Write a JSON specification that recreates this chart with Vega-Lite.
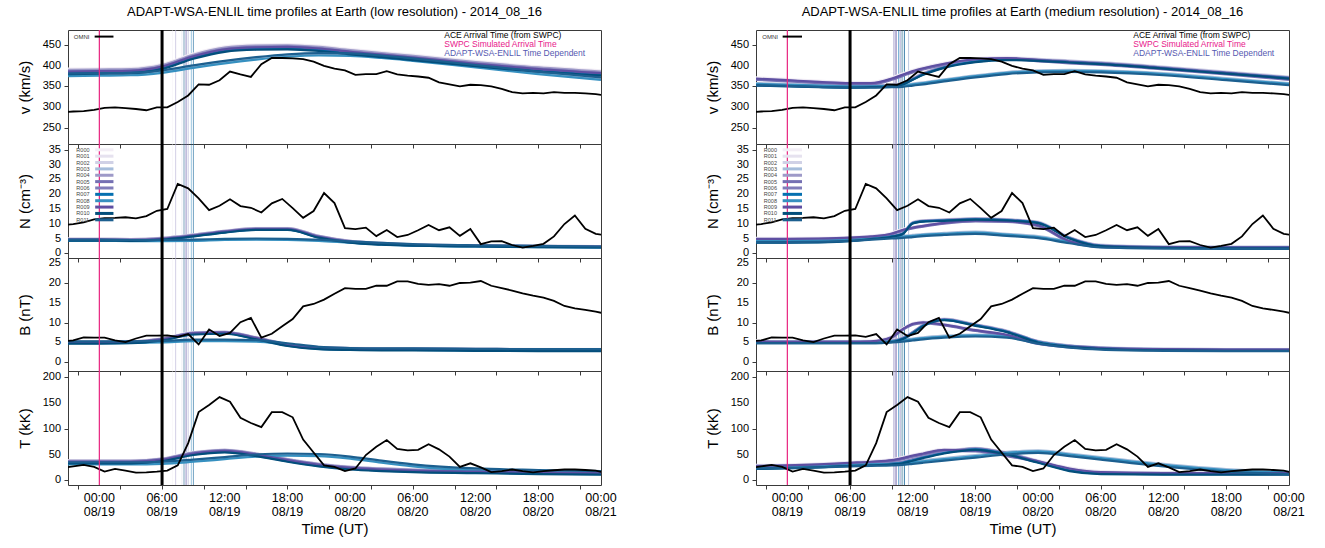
{
"$schema": "https://vega.github.io/schema/vega-lite/v6.json",
"background": "white",
"padding": {"left": 17, "top": 5, "right": 5, "bottom": 2},
"config": {
 "font": "Liberation Sans",
 "view": {"stroke": "#3a3a3a", "strokeWidth": 1},
 "axis": {"grid": false, "domain": false, "ticks": true, "tickColor": "#3a3a3a", "tickWidth": 1, "tickSize": 4, "labelColor": "#000", "titleColor": "#000", "titleFontWeight": "normal", "labelFont": "Liberation Sans", "titleFont": "Liberation Sans"},
 "title": {"font": "Liberation Sans", "fontWeight": "normal", "fontSize": 13, "color": "#000"}
},
"datasets": {
 "mem": [{"m":"R000"},{"m":"R001"},{"m":"R002"},{"m":"R003"},{"m":"R004"},{"m":"R005"},{"m":"R006"},{"m":"R007"},{"m":"R008"},{"m":"R009"},{"m":"R010"},{"m":"R011"}],
 "yt": [
  {"p":"v","val":250},{"p":"v","val":300},{"p":"v","val":350},{"p":"v","val":400},{"p":"v","val":450},
  {"p":"N","val":0},{"p":"N","val":5},{"p":"N","val":10},{"p":"N","val":15},{"p":"N","val":20},{"p":"N","val":25},{"p":"N","val":30},{"p":"N","val":35},
  {"p":"B","val":0},{"p":"B","val":5},{"p":"B","val":10},{"p":"B","val":15},{"p":"B","val":20},{"p":"B","val":25},
  {"p":"T","val":0},{"p":"T","val":50},{"p":"T","val":100},{"p":"T","val":150},{"p":"T","val":200}
 ],
 "xt": [
  {"h":0,"l":["00:00","08/19"]},{"h":6,"l":["06:00","08/19"]},{"h":12,"l":["12:00","08/19"]},{"h":18,"l":["18:00","08/19"]},
  {"h":24,"l":["00:00","08/20"]},{"h":30,"l":["06:00","08/20"]},{"h":36,"l":["12:00","08/20"]},{"h":42,"l":["18:00","08/20"]},{"h":48,"l":["00:00","08/21"]}
 ],
 "omni": [
  {"t":-3.5,"v":287,"N":9.5,"B":5.3,"T":24},{"t":-2.5,"v":289,"N":9.9,"B":5.5,"T":27},{"t":-1.5,"v":290,"N":10.5,"B":6.3,"T":30},{"t":-0.5,"v":293,"N":11.5,"B":6.2,"T":26},
  {"t":0.5,"v":298,"N":11.9,"B":6.2,"T":17},{"t":1.5,"v":299,"N":12.0,"B":5.5,"T":22},{"t":2.5,"v":297,"N":12.2,"B":5.1,"T":19},{"t":3.5,"v":295,"N":11.8,"B":6.0,"T":15},
  {"t":4.5,"v":292,"N":12.6,"B":6.7,"T":15.5},{"t":5.5,"v":299,"N":14.4,"B":6.7,"T":17},{"t":6.5,"v":299,"N":15.0,"B":6.8,"T":19},{"t":7.5,"v":312,"N":23.5,"B":6.4,"T":29},
  {"t":8.5,"v":328,"N":22.0,"B":7.1,"T":72},{"t":9.5,"v":355,"N":18.6,"B":4.5,"T":132},{"t":10.5,"v":354,"N":14.6,"B":8.3,"T":146},{"t":11.5,"v":365,"N":16.1,"B":6.6,"T":161},
  {"t":12.5,"v":386,"N":18.3,"B":7.4,"T":152},{"t":13.5,"v":379,"N":16.0,"B":10.1,"T":121},{"t":14.5,"v":373,"N":15.4,"B":11.2,"T":111},{"t":15.5,"v":404,"N":13.8,"B":6.2,"T":103},
  {"t":16.5,"v":419,"N":16.9,"B":7.2,"T":132},{"t":17.5,"v":419,"N":18.4,"B":9.1,"T":132},{"t":18.5,"v":418,"N":15.3,"B":10.9,"T":122},{"t":19.5,"v":416,"N":12.0,"B":14.1,"T":79},
  {"t":20.5,"v":410,"N":14.3,"B":14.7,"T":54},{"t":21.5,"v":400,"N":20.4,"B":15.8,"T":29},{"t":22.5,"v":393,"N":17.0,"B":17.3,"T":26},{"t":23.5,"v":389,"N":8.5,"B":18.7,"T":18},
  {"t":24.5,"v":378,"N":8.2,"B":18.5,"T":23},{"t":25.5,"v":380,"N":8.7,"B":18.5,"T":49},{"t":26.5,"v":380,"N":5.8,"B":19.3,"T":65},{"t":27.5,"v":387,"N":7.9,"B":19.3,"T":78},
  {"t":28.5,"v":379,"N":5.5,"B":20.4,"T":61},{"t":29.5,"v":376,"N":6.2,"B":20.4,"T":58},{"t":30.5,"v":374,"N":7.8,"B":19.8,"T":59},{"t":31.5,"v":371,"N":9.6,"B":19.5,"T":70},
  {"t":32.5,"v":360,"N":7.8,"B":19.7,"T":60},{"t":33.5,"v":355,"N":8.8,"B":19.3,"T":46},{"t":34.5,"v":350,"N":5.9,"B":20.0,"T":26},{"t":35.5,"v":354,"N":8.2,"B":20.1,"T":33},
  {"t":36.5,"v":353,"N":3.1,"B":20.5,"T":25},{"t":37.5,"v":350,"N":4.0,"B":19.3,"T":16},{"t":38.5,"v":344,"N":4.1,"B":18.7,"T":18},{"t":39.5,"v":336,"N":2.8,"B":18.1,"T":21},
  {"t":40.5,"v":333,"N":1.9,"B":17.4,"T":18},{"t":41.5,"v":334,"N":2.5,"B":16.8,"T":15.5},{"t":42.5,"v":333,"N":3.2,"B":16.3,"T":18},{"t":43.5,"v":336,"N":5.7,"B":15.5,"T":19.5},
  {"t":44.5,"v":334,"N":9.9,"B":14.2,"T":21},{"t":45.5,"v":334,"N":12.8,"B":13.6,"T":21},{"t":46.5,"v":333,"N":8.3,"B":13.2,"T":20},{"t":47.5,"v":331,"N":6.6,"B":12.8,"T":19},
  {"t":48.5,"v":328,"N":6.0,"B":12.2,"T":14}
 ],
 "arr": [
  {"c":"L","m":"R000","t":7.0},{"c":"L","m":"R001","t":7.3},{"c":"L","m":"R002","t":7.9},{"c":"L","m":"R003","t":8.1},{"c":"L","m":"R004","t":7.3},{"c":"L","m":"R005","t":8.3},
  {"c":"L","m":"R006","t":8.5},{"c":"L","m":"R007","t":8.8},{"c":"L","m":"R008","t":9.0},{"c":"L","m":"R009","t":8.3},{"c":"L","m":"R010","t":8.1},{"c":"L","m":"R011","t":9.0},
  {"c":"R","m":"R000","t":10.2},{"c":"R","m":"R001","t":10.4},{"c":"R","m":"R002","t":11.6},{"c":"R","m":"R003","t":11.6},{"c":"R","m":"R004","t":10.4},{"c":"R","m":"R005","t":10.2},
  {"c":"R","m":"R006","t":10.8},{"c":"R","m":"R007","t":10.65},{"c":"R","m":"R008","t":11.2},{"c":"R","m":"R009","t":10.4},{"c":"R","m":"R010","t":10.98},{"c":"R","m":"R011","t":11.2}
 ],
 "ens": [
  {"c":"L","p":"v","t":-3,"R000":393,"R001":391,"R002":389,"R003":378,"R004":390,"R005":384,"R006":387,"R007":382,"R008":375,"R009":386,"R010":380,"R011":381},
  {"c":"L","p":"v","t":0,"R000":394,"R001":392,"R002":390,"R003":379,"R004":391,"R005":385,"R006":388,"R007":383,"R008":376,"R009":387,"R010":381,"R011":382},
  {"c":"L","p":"v","t":3,"R000":395,"R001":393,"R002":391,"R003":380,"R004":392,"R005":386,"R006":389,"R007":384,"R008":377,"R009":388,"R010":382,"R011":383},
  {"c":"L","p":"v","t":6,"R000":405,"R001":403,"R002":401,"R003":386,"R004":402,"R005":396,"R006":399,"R007":394,"R008":383,"R009":398,"R010":392,"R011":389},
  {"c":"L","p":"v","t":9,"R000":430,"R001":428,"R002":426,"R003":398,"R004":427,"R005":421,"R006":424,"R007":419,"R008":395,"R009":423,"R010":417,"R011":401},
  {"c":"L","p":"v","t":12,"R000":447,"R001":445,"R002":443,"R003":409,"R004":444,"R005":438,"R006":441,"R007":436,"R008":406,"R009":440,"R010":434,"R011":412},
  {"c":"L","p":"v","t":15,"R000":452,"R001":450,"R002":448,"R003":418,"R004":449,"R005":443,"R006":446,"R007":441,"R008":415,"R009":445,"R010":439,"R011":421},
  {"c":"L","p":"v","t":18,"R000":453,"R001":451,"R002":449,"R003":425,"R004":450,"R005":444,"R006":447,"R007":442,"R008":422,"R009":446,"R010":440,"R011":428},
  {"c":"L","p":"v","t":21,"R000":449,"R001":447,"R002":445,"R003":428,"R004":446,"R005":440,"R006":443,"R007":438,"R008":425,"R009":442,"R010":436,"R011":431},
  {"c":"L","p":"v","t":24,"R000":441,"R001":439,"R002":437,"R003":427,"R004":438,"R005":432,"R006":435,"R007":430,"R008":424,"R009":434,"R010":428,"R011":430},
  {"c":"L","p":"v","t":27,"R000":434,"R001":432,"R002":430,"R003":422,"R004":431,"R005":425,"R006":428,"R007":423,"R008":419,"R009":427,"R010":421,"R011":425},
  {"c":"L","p":"v","t":30,"R000":427,"R001":425,"R002":423,"R003":415,"R004":424,"R005":418,"R006":421,"R007":416,"R008":412,"R009":420,"R010":414,"R011":418},
  {"c":"L","p":"v","t":36,"R000":412,"R001":410,"R002":408,"R003":399,"R004":409,"R005":403,"R006":406,"R007":401,"R008":396,"R009":405,"R010":399,"R011":402},
  {"c":"L","p":"v","t":42,"R000":399,"R001":397,"R002":395,"R003":383,"R004":396,"R005":390,"R006":393,"R007":388,"R008":380,"R009":392,"R010":386,"R011":386},
  {"c":"L","p":"v","t":48,"R000":389,"R001":387,"R002":385,"R003":369,"R004":386,"R005":380,"R006":383,"R007":378,"R008":366,"R009":382,"R010":376,"R011":372},

  {"c":"L","p":"N","t":-3,"R000":5.0,"R001":4.9,"R002":4.8,"R003":4.4,"R004":4.9,"R005":4.5,"R006":4.7,"R007":4.4,"R008":4.2,"R009":4.6,"R010":4.3,"R011":4.6},
  {"c":"L","p":"N","t":0,"R000":5.0,"R001":4.9,"R002":4.8,"R003":4.4,"R004":4.9,"R005":4.5,"R006":4.7,"R007":4.4,"R008":4.2,"R009":4.6,"R010":4.3,"R011":4.6},
  {"c":"L","p":"N","t":3,"R000":4.9,"R001":4.8,"R002":4.7,"R003":4.3,"R004":4.8,"R005":4.4,"R006":4.6,"R007":4.3,"R008":4.1,"R009":4.5,"R010":4.2,"R011":4.5},
  {"c":"L","p":"N","t":6,"R000":5.3,"R001":5.2,"R002":5.1,"R003":4.3,"R004":5.2,"R005":4.8,"R006":5.0,"R007":4.7,"R008":4.1,"R009":4.9,"R010":4.6,"R011":4.5},
  {"c":"L","p":"N","t":9,"R000":6.4,"R001":6.3,"R002":6.2,"R003":4.4,"R004":6.3,"R005":5.9,"R006":6.1,"R007":5.8,"R008":4.2,"R009":6.0,"R010":5.7,"R011":4.6},
  {"c":"L","p":"N","t":12,"R000":7.7,"R001":7.6,"R002":7.5,"R003":4.7,"R004":7.6,"R005":7.2,"R006":7.4,"R007":7.1,"R008":4.5,"R009":7.3,"R010":7.0,"R011":4.9},
  {"c":"L","p":"N","t":15,"R000":8.6,"R001":8.5,"R002":8.4,"R003":4.8,"R004":8.5,"R005":8.1,"R006":8.3,"R007":8.0,"R008":4.6,"R009":8.2,"R010":7.9,"R011":5.0},
  {"c":"L","p":"N","t":18,"R000":8.6,"R001":8.5,"R002":8.4,"R003":4.7,"R004":8.5,"R005":8.1,"R006":8.3,"R007":8.0,"R008":4.5,"R009":8.2,"R010":7.9,"R011":4.9},
  {"c":"L","p":"N","t":21,"R000":6.0,"R001":5.9,"R002":5.8,"R003":4.4,"R004":5.9,"R005":5.5,"R006":5.7,"R007":5.4,"R008":4.2,"R009":5.6,"R010":5.3,"R011":4.6},
  {"c":"L","p":"N","t":24,"R000":4.3,"R001":4.2,"R002":4.1,"R003":3.8,"R004":4.2,"R005":3.8,"R006":4.0,"R007":3.7,"R008":3.6,"R009":3.9,"R010":3.6,"R011":4.0},
  {"c":"L","p":"N","t":27,"R000":3.6,"R001":3.5,"R002":3.4,"R003":3.3,"R004":3.5,"R005":3.1,"R006":3.3,"R007":3.0,"R008":3.1,"R009":3.2,"R010":2.9,"R011":3.5},
  {"c":"L","p":"N","t":30,"R000":3.1,"R001":3.0,"R002":2.9,"R003":2.9,"R004":3.0,"R005":2.7,"R006":2.9,"R007":2.6,"R008":2.7,"R009":2.8,"R010":2.6,"R011":3.1},
  {"c":"L","p":"N","t":36,"R000":2.7,"R001":2.7,"R002":2.6,"R003":2.5,"R004":2.7,"R005":2.4,"R006":2.6,"R007":2.4,"R008":2.3,"R009":2.5,"R010":2.3,"R011":2.7},
  {"c":"L","p":"N","t":42,"R000":2.5,"R001":2.5,"R002":2.4,"R003":2.3,"R004":2.5,"R005":2.2,"R006":2.4,"R007":2.2,"R008":2.1,"R009":2.3,"R010":2.1,"R011":2.5},
  {"c":"L","p":"N","t":48,"R000":2.4,"R001":2.4,"R002":2.3,"R003":2.1,"R004":2.4,"R005":2.1,"R006":2.3,"R007":2.1,"R008":1.9,"R009":2.2,"R010":2.0,"R011":2.3},

  {"c":"L","p":"B","t":-3,"R000":5.3,"R001":5.2,"R002":5.1,"R003":5.1,"R004":5.2,"R005":4.9,"R006":5.1,"R007":4.8,"R008":4.9,"R009":5.0,"R010":4.7,"R011":5.3},
  {"c":"L","p":"B","t":0,"R000":5.3,"R001":5.2,"R002":5.1,"R003":5.1,"R004":5.2,"R005":4.9,"R006":5.1,"R007":4.8,"R008":4.9,"R009":5.0,"R010":4.7,"R011":5.3},
  {"c":"L","p":"B","t":3,"R000":5.4,"R001":5.3,"R002":5.2,"R003":5.1,"R004":5.3,"R005":5.0,"R006":5.2,"R007":4.9,"R008":4.9,"R009":5.1,"R010":4.8,"R011":5.3},
  {"c":"L","p":"B","t":6,"R000":6.1,"R001":6.0,"R002":5.9,"R003":5.2,"R004":6.0,"R005":5.7,"R006":5.9,"R007":5.6,"R008":5.0,"R009":5.8,"R010":5.5,"R011":5.4},
  {"c":"L","p":"B","t":9,"R000":7.6,"R001":7.5,"R002":7.4,"R003":5.5,"R004":7.5,"R005":7.2,"R006":7.4,"R007":7.1,"R008":5.3,"R009":7.3,"R010":7.0,"R011":5.7},
  {"c":"L","p":"B","t":12,"R000":7.8,"R001":7.7,"R002":7.6,"R003":5.5,"R004":7.7,"R005":7.4,"R006":7.6,"R007":7.3,"R008":5.3,"R009":7.5,"R010":7.2,"R011":5.7},
  {"c":"L","p":"B","t":15,"R000":6.4,"R001":6.3,"R002":6.2,"R003":5.4,"R004":6.3,"R005":6.0,"R006":6.2,"R007":5.9,"R008":5.2,"R009":6.1,"R010":5.8,"R011":5.6},
  {"c":"L","p":"B","t":18,"R000":4.7,"R001":4.6,"R002":4.5,"R003":4.6,"R004":4.6,"R005":4.3,"R006":4.5,"R007":4.2,"R008":4.4,"R009":4.4,"R010":4.1,"R011":4.8},
  {"c":"L","p":"B","t":21,"R000":3.9,"R001":3.8,"R002":3.7,"R003":3.7,"R004":3.8,"R005":3.5,"R006":3.7,"R007":3.4,"R008":3.5,"R009":3.6,"R010":3.3,"R011":3.9},
  {"c":"L","p":"B","t":24,"R000":3.7,"R001":3.6,"R002":3.5,"R003":3.4,"R004":3.6,"R005":3.3,"R006":3.5,"R007":3.2,"R008":3.2,"R009":3.4,"R010":3.1,"R011":3.6},
  {"c":"L","p":"B","t":27,"R000":3.6,"R001":3.5,"R002":3.4,"R003":3.3,"R004":3.5,"R005":3.2,"R006":3.4,"R007":3.1,"R008":3.1,"R009":3.3,"R010":3.0,"R011":3.5},
  {"c":"L","p":"B","t":30,"R000":3.6,"R001":3.5,"R002":3.4,"R003":3.3,"R004":3.5,"R005":3.2,"R006":3.4,"R007":3.1,"R008":3.1,"R009":3.3,"R010":3.0,"R011":3.5},
  {"c":"L","p":"B","t":36,"R000":3.5,"R001":3.4,"R002":3.3,"R003":3.2,"R004":3.4,"R005":3.1,"R006":3.3,"R007":3.0,"R008":3.0,"R009":3.2,"R010":2.9,"R011":3.4},
  {"c":"L","p":"B","t":42,"R000":3.4,"R001":3.3,"R002":3.2,"R003":3.1,"R004":3.3,"R005":3.0,"R006":3.2,"R007":2.9,"R008":2.9,"R009":3.1,"R010":2.8,"R011":3.3},
  {"c":"L","p":"B","t":48,"R000":3.4,"R001":3.3,"R002":3.2,"R003":3.1,"R004":3.3,"R005":3.0,"R006":3.2,"R007":2.9,"R008":2.9,"R009":3.1,"R010":2.8,"R011":3.3},

  {"c":"L","p":"T","t":-3,"R000":39,"R001":38,"R002":37,"R003":33,"R004":38,"R005":35,"R006":37,"R007":34,"R008":31,"R009":36,"R010":33,"R011":35},
  {"c":"L","p":"T","t":0,"R000":39,"R001":38,"R002":37,"R003":33,"R004":38,"R005":35,"R006":37,"R007":34,"R008":31,"R009":36,"R010":33,"R011":35},
  {"c":"L","p":"T","t":3,"R000":39,"R001":38,"R002":37,"R003":33,"R004":38,"R005":35,"R006":37,"R007":34,"R008":31,"R009":36,"R010":33,"R011":35},
  {"c":"L","p":"T","t":6,"R000":43,"R001":42,"R002":41,"R003":34,"R004":42,"R005":39,"R006":41,"R007":38,"R008":32,"R009":40,"R010":37,"R011":36},
  {"c":"L","p":"T","t":9,"R000":55,"R001":54,"R002":53,"R003":38,"R004":54,"R005":51,"R006":53,"R007":50,"R008":36,"R009":52,"R010":49,"R011":40},
  {"c":"L","p":"T","t":12,"R000":60,"R001":59,"R002":58,"R003":43,"R004":59,"R005":56,"R006":58,"R007":55,"R008":41,"R009":57,"R010":54,"R011":45},
  {"c":"L","p":"T","t":15,"R000":53,"R001":52,"R002":51,"R003":48,"R004":52,"R005":49,"R006":51,"R007":48,"R008":46,"R009":50,"R010":47,"R011":50},
  {"c":"L","p":"T","t":18,"R000":42,"R001":41,"R002":40,"R003":50,"R004":41,"R005":38,"R006":40,"R007":37,"R008":48,"R009":39,"R010":36,"R011":52},
  {"c":"L","p":"T","t":21,"R000":33,"R001":32,"R002":31,"R003":49,"R004":32,"R005":29,"R006":31,"R007":28,"R008":47,"R009":30,"R010":27,"R011":51},
  {"c":"L","p":"T","t":24,"R000":27,"R001":26,"R002":25,"R003":44,"R004":26,"R005":23,"R006":25,"R007":22,"R008":42,"R009":24,"R010":21,"R011":46},
  {"c":"L","p":"T","t":27,"R000":24,"R001":23,"R002":22,"R003":36,"R004":23,"R005":20,"R006":22,"R007":19,"R008":34,"R009":21,"R010":18,"R011":38},
  {"c":"L","p":"T","t":30,"R000":22,"R001":21,"R002":20,"R003":29,"R004":21,"R005":18,"R006":20,"R007":17,"R008":27,"R009":19,"R010":16,"R011":31},
  {"c":"L","p":"T","t":36,"R000":20,"R001":19,"R002":18,"R003":21,"R004":19,"R005":16,"R006":18,"R007":15,"R008":19,"R009":17,"R010":14,"R011":23},
  {"c":"L","p":"T","t":42,"R000":18,"R001":17,"R002":16,"R003":18,"R004":17,"R005":14,"R006":16,"R007":13,"R008":16,"R009":15,"R010":12,"R011":20},
  {"c":"L","p":"T","t":48,"R000":17,"R001":16,"R002":15,"R003":16,"R004":16,"R005":13,"R006":15,"R007":12,"R008":14,"R009":14,"R010":11,"R011":18},

  {"c":"R","p":"v","t":-3,"R000":372,"R001":370,"R002":357,"R003":358,"R004":368,"R005":366,"R006":355,"R007":353,"R008":356,"R009":369,"R010":352,"R011":353},
  {"c":"R","p":"v","t":0,"R000":368,"R001":366,"R002":355,"R003":356,"R004":364,"R005":362,"R006":353,"R007":351,"R008":354,"R009":365,"R010":350,"R011":351},
  {"c":"R","p":"v","t":3,"R000":364,"R001":362,"R002":353,"R003":354,"R004":360,"R005":358,"R006":351,"R007":349,"R008":352,"R009":361,"R010":348,"R011":349},
  {"c":"R","p":"v","t":6,"R000":361,"R001":359,"R002":352,"R003":352,"R004":357,"R005":355,"R006":350,"R007":348,"R008":350,"R009":358,"R010":347,"R011":347},
  {"c":"R","p":"v","t":8,"R000":361,"R001":359,"R002":353,"R003":352,"R004":357,"R005":355,"R006":351,"R007":349,"R008":350,"R009":358,"R010":348,"R011":347},
  {"c":"R","p":"v","t":10,"R000":372,"R001":370,"R002":355,"R003":353,"R004":368,"R005":366,"R006":353,"R007":351,"R008":351,"R009":369,"R010":350,"R011":348},
  {"c":"R","p":"v","t":11,"R000":381,"R001":379,"R002":359,"R003":354,"R004":377,"R005":375,"R006":357,"R007":355,"R008":352,"R009":378,"R010":354,"R011":349},
  {"c":"R","p":"v","t":12,"R000":390,"R001":388,"R002":371,"R003":357,"R004":386,"R005":384,"R006":369,"R007":367,"R008":355,"R009":387,"R010":366,"R011":352},
  {"c":"R","p":"v","t":13,"R000":397,"R001":395,"R002":383,"R003":360,"R004":393,"R005":391,"R006":381,"R007":379,"R008":358,"R009":394,"R010":378,"R011":355},
  {"c":"R","p":"v","t":15,"R000":408,"R001":406,"R002":400,"R003":367,"R004":404,"R005":402,"R006":398,"R007":396,"R008":365,"R009":405,"R010":395,"R011":362},
  {"c":"R","p":"v","t":18,"R000":419,"R001":417,"R002":414,"R003":377,"R004":415,"R005":413,"R006":412,"R007":410,"R008":375,"R009":416,"R010":409,"R011":372},
  {"c":"R","p":"v","t":21,"R000":422,"R001":420,"R002":419,"R003":385,"R004":418,"R005":416,"R006":417,"R007":415,"R008":383,"R009":419,"R010":414,"R011":380},
  {"c":"R","p":"v","t":24,"R000":417,"R001":415,"R002":417,"R003":389,"R004":413,"R005":411,"R006":415,"R007":413,"R008":387,"R009":414,"R010":412,"R011":384},
  {"c":"R","p":"v","t":27,"R000":412,"R001":410,"R002":413,"R003":390,"R004":408,"R005":406,"R006":411,"R007":409,"R008":388,"R009":409,"R010":408,"R011":385},
  {"c":"R","p":"v","t":30,"R000":408,"R001":406,"R002":409,"R003":389,"R004":404,"R005":402,"R006":407,"R007":405,"R008":387,"R009":405,"R010":404,"R011":384},
  {"c":"R","p":"v","t":36,"R000":397,"R001":395,"R002":398,"R003":382,"R004":393,"R005":391,"R006":396,"R007":394,"R008":380,"R009":394,"R010":393,"R011":377},
  {"c":"R","p":"v","t":42,"R000":385,"R001":383,"R002":386,"R003":370,"R004":381,"R005":379,"R006":384,"R007":382,"R008":368,"R009":382,"R010":381,"R011":365},
  {"c":"R","p":"v","t":48,"R000":372,"R001":370,"R002":374,"R003":358,"R004":368,"R005":366,"R006":372,"R007":370,"R008":356,"R009":369,"R010":369,"R011":353},

  {"c":"R","p":"N","t":-3,"R000":5.2,"R001":5.0,"R002":4.1,"R003":4.5,"R004":4.8,"R005":4.6,"R006":3.9,"R007":3.7,"R008":4.2,"R009":4.9,"R010":3.6,"R011":3.8},
  {"c":"R","p":"N","t":0,"R000":5.2,"R001":5.0,"R002":4.1,"R003":4.5,"R004":4.8,"R005":4.6,"R006":3.9,"R007":3.7,"R008":4.2,"R009":4.9,"R010":3.6,"R011":3.8},
  {"c":"R","p":"N","t":3,"R000":5.3,"R001":5.1,"R002":4.2,"R003":4.6,"R004":4.9,"R005":4.7,"R006":4.0,"R007":3.8,"R008":4.3,"R009":5.0,"R010":3.7,"R011":3.9},
  {"c":"R","p":"N","t":6,"R000":5.6,"R001":5.4,"R002":4.6,"R003":4.9,"R004":5.2,"R005":5.0,"R006":4.4,"R007":4.2,"R008":4.6,"R009":5.3,"R010":4.1,"R011":4.2},
  {"c":"R","p":"N","t":8,"R000":6.0,"R001":5.8,"R002":5.3,"R003":5.3,"R004":5.6,"R005":5.4,"R006":5.1,"R007":4.9,"R008":5.0,"R009":5.7,"R010":4.8,"R011":4.6},
  {"c":"R","p":"N","t":10,"R000":7.0,"R001":6.8,"R002":6.1,"R003":5.7,"R004":6.6,"R005":6.4,"R006":5.9,"R007":5.7,"R008":5.4,"R009":6.7,"R010":5.6,"R011":5.0},
  {"c":"R","p":"N","t":11,"R000":8.2,"R001":8.0,"R002":6.9,"R003":5.9,"R004":7.8,"R005":7.6,"R006":6.7,"R007":6.5,"R008":5.6,"R009":7.9,"R010":6.4,"R011":5.2},
  {"c":"R","p":"N","t":12,"R000":9.0,"R001":8.8,"R002":10.6,"R003":6.2,"R004":8.6,"R005":8.4,"R006":10.4,"R007":10.2,"R008":5.9,"R009":8.7,"R010":10.1,"R011":5.5},
  {"c":"R","p":"N","t":13,"R000":9.6,"R001":9.4,"R002":11.2,"R003":6.5,"R004":9.2,"R005":9.0,"R006":11.0,"R007":10.8,"R008":6.2,"R009":9.3,"R010":10.7,"R011":5.8},
  {"c":"R","p":"N","t":15,"R000":10.6,"R001":10.4,"R002":11.5,"R003":6.9,"R004":10.2,"R005":10.0,"R006":11.3,"R007":11.1,"R008":6.6,"R009":10.3,"R010":11.0,"R011":6.2},
  {"c":"R","p":"N","t":18,"R000":11.4,"R001":11.2,"R002":11.9,"R003":7.3,"R004":11.0,"R005":10.8,"R006":11.7,"R007":11.5,"R008":7.0,"R009":11.1,"R010":11.4,"R011":6.6},
  {"c":"R","p":"N","t":21,"R000":11.2,"R001":11.0,"R002":11.6,"R003":6.6,"R004":10.8,"R005":10.6,"R006":11.4,"R007":11.2,"R008":6.3,"R009":10.9,"R010":11.1,"R011":5.9},
  {"c":"R","p":"N","t":24,"R000":9.8,"R001":9.6,"R002":10.7,"R003":5.8,"R004":9.4,"R005":9.2,"R006":10.5,"R007":10.3,"R008":5.5,"R009":9.5,"R010":10.2,"R011":5.1},
  {"c":"R","p":"N","t":27,"R000":4.4,"R001":4.2,"R002":5.5,"R003":4.1,"R004":4.0,"R005":3.8,"R006":5.3,"R007":5.1,"R008":3.8,"R009":4.1,"R010":5.0,"R011":3.4},
  {"c":"R","p":"N","t":30,"R000":2.7,"R001":2.5,"R002":2.9,"R003":2.7,"R004":2.3,"R005":2.1,"R006":2.7,"R007":2.5,"R008":2.4,"R009":2.4,"R010":2.4,"R011":2.0},
  {"c":"R","p":"N","t":36,"R000":2.4,"R001":2.2,"R002":2.3,"R003":2.3,"R004":2.0,"R005":1.8,"R006":2.1,"R007":1.9,"R008":2.0,"R009":2.1,"R010":1.8,"R011":1.6},
  {"c":"R","p":"N","t":42,"R000":2.3,"R001":2.1,"R002":2.2,"R003":2.2,"R004":1.9,"R005":1.7,"R006":2.0,"R007":1.8,"R008":1.9,"R009":2.0,"R010":1.7,"R011":1.5},
  {"c":"R","p":"N","t":48,"R000":2.3,"R001":2.1,"R002":2.2,"R003":2.2,"R004":1.9,"R005":1.7,"R006":2.0,"R007":1.8,"R008":1.9,"R009":2.0,"R010":1.7,"R011":1.5},

  {"c":"R","p":"B","t":-3,"R000":5.5,"R001":5.4,"R002":5.2,"R003":5.3,"R004":5.2,"R005":5.1,"R006":5.1,"R007":4.9,"R008":5.1,"R009":5.3,"R010":4.8,"R011":4.8},
  {"c":"R","p":"B","t":0,"R000":5.4,"R001":5.3,"R002":5.2,"R003":5.3,"R004":5.1,"R005":5.0,"R006":5.1,"R007":4.9,"R008":5.1,"R009":5.2,"R010":4.8,"R011":4.8},
  {"c":"R","p":"B","t":3,"R000":5.4,"R001":5.3,"R002":5.2,"R003":5.3,"R004":5.1,"R005":5.0,"R006":5.1,"R007":4.9,"R008":5.1,"R009":5.2,"R010":4.8,"R011":4.8},
  {"c":"R","p":"B","t":6,"R000":5.4,"R001":5.3,"R002":5.2,"R003":5.3,"R004":5.1,"R005":5.0,"R006":5.1,"R007":4.9,"R008":5.1,"R009":5.2,"R010":4.8,"R011":4.8},
  {"c":"R","p":"B","t":8,"R000":5.5,"R001":5.4,"R002":5.2,"R003":5.3,"R004":5.2,"R005":5.1,"R006":5.1,"R007":4.9,"R008":5.1,"R009":5.3,"R010":4.8,"R011":4.8},
  {"c":"R","p":"B","t":10,"R000":6.6,"R001":6.5,"R002":5.5,"R003":5.5,"R004":6.3,"R005":6.2,"R006":5.4,"R007":5.2,"R008":5.3,"R009":6.4,"R010":5.1,"R011":5.0},
  {"c":"R","p":"B","t":11,"R000":8.5,"R001":8.4,"R002":6.2,"R003":5.7,"R004":8.2,"R005":8.1,"R006":6.1,"R007":5.9,"R008":5.5,"R009":8.3,"R010":5.8,"R011":5.2},
  {"c":"R","p":"B","t":12,"R000":9.9,"R001":9.8,"R002":7.7,"R003":6.0,"R004":9.6,"R005":9.5,"R006":7.6,"R007":7.4,"R008":5.8,"R009":9.7,"R010":7.3,"R011":5.5},
  {"c":"R","p":"B","t":13,"R000":10.3,"R001":10.2,"R002":9.5,"R003":6.3,"R004":10.0,"R005":9.9,"R006":9.4,"R007":9.2,"R008":6.1,"R009":10.1,"R010":9.1,"R011":5.8},
  {"c":"R","p":"B","t":15,"R000":9.7,"R001":9.6,"R002":11.0,"R003":6.7,"R004":9.4,"R005":9.3,"R006":10.9,"R007":10.7,"R008":6.5,"R009":9.5,"R010":10.6,"R011":6.2},
  {"c":"R","p":"B","t":18,"R000":8.3,"R001":8.2,"R002":9.6,"R003":7.0,"R004":8.0,"R005":7.9,"R006":9.5,"R007":9.3,"R008":6.8,"R009":8.1,"R010":9.2,"R011":6.5},
  {"c":"R","p":"B","t":21,"R000":7.1,"R001":7.0,"R002":8.0,"R003":6.7,"R004":6.8,"R005":6.7,"R006":7.9,"R007":7.7,"R008":6.5,"R009":6.9,"R010":7.6,"R011":6.2},
  {"c":"R","p":"B","t":24,"R000":5.0,"R001":4.9,"R002":5.4,"R003":5.2,"R004":4.7,"R005":4.6,"R006":5.3,"R007":5.1,"R008":5.0,"R009":4.8,"R010":5.0,"R011":4.7},
  {"c":"R","p":"B","t":27,"R000":4.2,"R001":4.1,"R002":4.3,"R003":4.2,"R004":3.9,"R005":3.8,"R006":4.2,"R007":4.0,"R008":4.0,"R009":4.0,"R010":3.9,"R011":3.7},
  {"c":"R","p":"B","t":30,"R000":3.8,"R001":3.7,"R002":3.8,"R003":3.7,"R004":3.5,"R005":3.4,"R006":3.7,"R007":3.5,"R008":3.5,"R009":3.6,"R010":3.4,"R011":3.2},
  {"c":"R","p":"B","t":36,"R000":3.5,"R001":3.4,"R002":3.4,"R003":3.4,"R004":3.2,"R005":3.1,"R006":3.3,"R007":3.1,"R008":3.2,"R009":3.3,"R010":3.0,"R011":2.9},
  {"c":"R","p":"B","t":42,"R000":3.4,"R001":3.3,"R002":3.3,"R003":3.3,"R004":3.1,"R005":3.0,"R006":3.2,"R007":3.0,"R008":3.1,"R009":3.2,"R010":2.9,"R011":2.8},
  {"c":"R","p":"B","t":48,"R000":3.4,"R001":3.3,"R002":3.3,"R003":3.3,"R004":3.1,"R005":3.0,"R006":3.2,"R007":3.0,"R008":3.1,"R009":3.2,"R010":2.9,"R011":2.8},

  {"c":"R","p":"T","t":-3,"R000":30,"R001":29,"R002":26,"R003":28,"R004":27,"R005":26,"R006":25,"R007":23,"R008":26,"R009":28,"R010":22,"R011":23},
  {"c":"R","p":"T","t":0,"R000":31,"R001":30,"R002":27,"R003":29,"R004":28,"R005":27,"R006":26,"R007":24,"R008":27,"R009":29,"R010":23,"R011":24},
  {"c":"R","p":"T","t":3,"R000":33,"R001":32,"R002":29,"R003":30,"R004":30,"R005":29,"R006":28,"R007":26,"R008":28,"R009":31,"R010":25,"R011":25},
  {"c":"R","p":"T","t":6,"R000":36,"R001":35,"R002":32,"R003":32,"R004":33,"R005":32,"R006":31,"R007":29,"R008":30,"R009":34,"R010":28,"R011":27},
  {"c":"R","p":"T","t":8,"R000":38,"R001":37,"R002":33,"R003":33,"R004":35,"R005":34,"R006":32,"R007":30,"R008":31,"R009":36,"R010":29,"R011":28},
  {"c":"R","p":"T","t":10,"R000":41,"R001":40,"R002":35,"R003":34,"R004":38,"R005":37,"R006":34,"R007":32,"R008":32,"R009":39,"R010":31,"R011":29},
  {"c":"R","p":"T","t":11,"R000":45,"R001":44,"R002":37,"R003":35,"R004":42,"R005":41,"R006":36,"R007":34,"R008":33,"R009":43,"R010":33,"R011":30},
  {"c":"R","p":"T","t":12,"R000":50,"R001":49,"R002":42,"R003":37,"R004":47,"R005":46,"R006":41,"R007":39,"R008":35,"R009":48,"R010":38,"R011":32},
  {"c":"R","p":"T","t":13,"R000":54,"R001":53,"R002":47,"R003":39,"R004":51,"R005":50,"R006":46,"R007":44,"R008":37,"R009":52,"R010":43,"R011":34},
  {"c":"R","p":"T","t":15,"R000":61,"R001":60,"R002":56,"R003":43,"R004":58,"R005":57,"R006":55,"R007":53,"R008":41,"R009":59,"R010":52,"R011":38},
  {"c":"R","p":"T","t":18,"R000":60,"R001":59,"R002":63,"R003":49,"R004":57,"R005":56,"R006":62,"R007":60,"R008":47,"R009":58,"R010":59,"R011":44},
  {"c":"R","p":"T","t":21,"R000":51,"R001":50,"R002":54,"R003":55,"R004":48,"R005":47,"R006":53,"R007":51,"R008":53,"R009":49,"R010":50,"R011":50},
  {"c":"R","p":"T","t":24,"R000":39,"R001":38,"R002":38,"R003":58,"R004":36,"R005":35,"R006":37,"R007":35,"R008":56,"R009":37,"R010":34,"R011":53},
  {"c":"R","p":"T","t":27,"R000":25,"R001":24,"R002":22,"R003":52,"R004":22,"R005":21,"R006":21,"R007":19,"R008":50,"R009":23,"R010":18,"R011":47},
  {"c":"R","p":"T","t":30,"R000":18,"R001":17,"R002":16,"R003":45,"R004":15,"R005":14,"R006":15,"R007":13,"R008":43,"R009":16,"R010":12,"R011":40},
  {"c":"R","p":"T","t":36,"R000":16,"R001":15,"R002":15,"R003":32,"R004":13,"R005":12,"R006":14,"R007":12,"R008":30,"R009":14,"R010":11,"R011":27},
  {"c":"R","p":"T","t":42,"R000":16,"R001":15,"R002":15,"R003":22,"R004":13,"R005":12,"R006":14,"R007":12,"R008":20,"R009":14,"R010":11,"R011":17},
  {"c":"R","p":"T","t":48,"R000":16,"R001":15,"R002":15,"R003":17,"R004":13,"R005":12,"R006":14,"R007":12,"R008":15,"R009":14,"R010":11,"R011":12}
 ]
},
"spacing": 87,
"hconcat": [
 {
  "spacing": 0,
  "bounds": "flush",
  "vconcat": [
   {
    "width": 533, "height": 114,
    "title": {"text": "ADAPT-WSA-ENLIL time profiles at Earth (low resolution) - 2014_08_16", "anchor": "middle", "frame": "group", "offset": 10},
    "layer": [
     {"data": {"name": "arr"}, "transform": [{"filter": "datum.c == 'L'"}], "mark": {"type": "rule", "strokeWidth": 1, "opacity": 0.4},
      "encoding": {"x": {"field": "t", "type": "quantitative"}, "color": {"field": "m", "type": "nominal", "legend": null}}},
     {"data": {"name": "ens"}, "transform": [{"filter": "datum.c == 'L' && datum.p == 'v'"}, {"fold": ["R000","R001","R002","R003","R004","R005","R006","R007","R008","R009","R010","R011"], "as": ["m", "y"]}],
      "mark": {"type": "line", "interpolate": "monotone", "clip": true},
      "encoding": {
       "x": {"field": "t", "type": "quantitative", "scale": {"domain": [-3, 48], "nice": false, "zero": false}, "axis": {"values": [-2,0,2,4,6,8,10,12,14,16,18,20,22,24,26,28,30,32,34,36,38,40,42,44,46,48], "labels": false, "title": null, "ticks": true, "tickSize": 4}},
       "y": {"field": "y", "type": "quantitative", "scale": {"domain": [210, 487], "nice": false, "zero": false}, "axis": {"values": [250,300,350,400,450], "labels": false, "title": "v (km/s)", "titleFontSize": 15, "titlePadding": 31, "ticks": true, "tickSize": 4}},
       "color": {"field": "m", "type": "nominal", "scale": {"domain": ["R000","R001","R002","R003","R004","R005","R006","R007","R008","R009","R010","R011"], "range": ["#f3eef6","#e6e2ef","#d0d1e6","#a6bddb","#9e9ac8","#7570b3","#807dba","#0570b0","#3690c0","#5e4fa2","#034e7b","#1c5f8f"]}, "legend": null},
       "strokeWidth": {"field": "m", "type": "nominal", "scale": {"domain": ["R000","R001","R002","R003","R004","R005","R006","R007","R008","R009","R010","R011"], "range": [2.2,2.2,2.2,1.2,2.2,2.2,2.2,2.2,1.2,2.2,2.8,1.2]}, "legend": null}
      }},
     {"data": {"name": "omni"}, "mark": {"type": "line", "color": "black", "strokeWidth": 1.8, "clip": true},
      "encoding": {"x": {"field": "t", "type": "quantitative"}, "y": {"field": "v", "type": "quantitative"}}},
     {"data": {"name": "yt"}, "transform": [{"filter": "datum.p == 'v'"}], "mark": {"type": "text", "align": "right", "baseline": "middle", "dx": -7, "fontSize": 11, "color": "#000"},
      "encoding": {"x": {"datum": -3}, "y": {"field": "val", "type": "quantitative"}, "text": {"field": "val"}}},
     {"data": {"values": [{}]}, "mark": {"type": "rule", "color": "#e8237f", "strokeWidth": 1.2}, "encoding": {"x": {"datum": 0}}},
     {"data": {"values": [{}]}, "mark": {"type": "rule", "color": "black", "strokeWidth": 3}, "encoding": {"x": {"datum": 6}}},
     {"data": {"values": [{}]}, "mark": {"type": "text", "text": "OMNI", "align": "left", "baseline": "middle", "fontSize": 6, "color": "#333"}, "encoding": {"x": {"datum": -2.45}, "y": {"datum": 471}}},
     {"data": {"values": [{}]}, "mark": {"type": "rule", "color": "black", "strokeWidth": 2}, "encoding": {"x": {"datum": -0.45}, "x2": {"datum": 1.35}, "y": {"datum": 471}}},
     {"data": {"values": [{}]}, "mark": {"type": "text", "text": "ACE Arrival Time (from SWPC)", "align": "left", "baseline": "middle", "fontSize": 8.5, "color": "#000"}, "encoding": {"x": {"datum": 33}, "y": {"datum": 476}}},
     {"data": {"values": [{}]}, "mark": {"type": "text", "text": "SWPC Simulated Arrival Time", "align": "left", "baseline": "middle", "fontSize": 8.5, "color": "#e8198b"}, "encoding": {"x": {"datum": 33}, "y": {"datum": 454}}},
     {"data": {"values": [{}]}, "mark": {"type": "text", "text": "ADAPT-WSA-ENLIL Time Dependent", "align": "left", "baseline": "middle", "fontSize": 8.5, "color": "#5558b0"}, "encoding": {"x": {"datum": 33}, "y": {"datum": 432}}}
    ]
   },
   {
    "width": 533, "height": 114,
    "resolve": {"scale": {"y": "independent"}},
    "layer": [
     {"layer": [
      {"data": {"name": "arr"}, "transform": [{"filter": "datum.c == 'L'"}], "mark": {"type": "rule", "strokeWidth": 1, "opacity": 0.4},
       "encoding": {"x": {"field": "t", "type": "quantitative"}, "color": {"field": "m", "type": "nominal", "legend": null}}},
      {"data": {"name": "ens"}, "transform": [{"filter": "datum.c == 'L' && datum.p == 'N'"}, {"fold": ["R000","R001","R002","R003","R004","R005","R006","R007","R008","R009","R010","R011"], "as": ["m", "y"]}],
       "mark": {"type": "line", "interpolate": "monotone", "clip": true},
       "encoding": {
        "x": {"field": "t", "type": "quantitative", "scale": {"domain": [-3, 48], "nice": false, "zero": false}, "axis": {"values": [-2,0,2,4,6,8,10,12,14,16,18,20,22,24,26,28,30,32,34,36,38,40,42,44,46,48], "labels": false, "title": null, "ticks": true, "tickSize": 4}},
        "y": {"field": "y", "type": "quantitative", "scale": {"domain": [-1.6, 37], "nice": false, "zero": false}, "axis": {"values": [0,5,10,15,20,25,30,35], "labels": false, "title": "N (cm⁻³)", "titleFontSize": 15, "titlePadding": 31, "ticks": true, "tickSize": 4}},
        "color": {"field": "m", "type": "nominal", "scale": {"domain": ["R000","R001","R002","R003","R004","R005","R006","R007","R008","R009","R010","R011"], "range": ["#f3eef6","#e6e2ef","#d0d1e6","#a6bddb","#9e9ac8","#7570b3","#807dba","#0570b0","#3690c0","#5e4fa2","#034e7b","#1c5f8f"]}, "legend": null},
        "strokeWidth": {"field": "m", "type": "nominal", "scale": {"domain": ["R000","R001","R002","R003","R004","R005","R006","R007","R008","R009","R010","R011"], "range": [2.2,2.2,2.2,1.2,2.2,2.2,2.2,2.2,1.2,2.2,2.8,1.2]}, "legend": null}
       }},
      {"data": {"name": "omni"}, "mark": {"type": "line", "color": "black", "strokeWidth": 1.8, "clip": true},
       "encoding": {"x": {"field": "t", "type": "quantitative"}, "y": {"field": "N", "type": "quantitative"}}},
      {"data": {"name": "yt"}, "transform": [{"filter": "datum.p == 'N'"}], "mark": {"type": "text", "align": "right", "baseline": "middle", "dx": -7, "fontSize": 11, "color": "#000"},
       "encoding": {"x": {"datum": -3}, "y": {"field": "val", "type": "quantitative"}, "text": {"field": "val"}}},
      {"data": {"values": [{}]}, "mark": {"type": "rule", "color": "#e8237f", "strokeWidth": 1.2}, "encoding": {"x": {"datum": 0}}},
      {"data": {"values": [{}]}, "mark": {"type": "rule", "color": "black", "strokeWidth": 3}, "encoding": {"x": {"datum": 6}}}
     ]},
     {"data": {"name": "mem"}, "layer": [
      {"mark": {"type": "text", "align": "left", "baseline": "middle", "fontSize": 5.5, "color": "#444"},
       "encoding": {"x": {"datum": -2.2}, "y": {"field": "m", "type": "ordinal", "scale": {"type": "point", "padding": 0, "range": [5.8, 75.8]}, "axis": null}, "text": {"field": "m"}}},
      {"mark": {"type": "rule", "strokeWidth": 3},
       "encoding": {"x": {"datum": -0.4}, "x2": {"datum": 1.35}, "y": {"field": "m", "type": "ordinal", "axis": null}, "color": {"field": "m", "type": "nominal", "legend": null}}}
     ]}
    ]
   },
   {
    "width": 533, "height": 113,
    "layer": [
     {"data": {"name": "arr"}, "transform": [{"filter": "datum.c == 'L'"}], "mark": {"type": "rule", "strokeWidth": 1, "opacity": 0.4},
      "encoding": {"x": {"field": "t", "type": "quantitative"}, "color": {"field": "m", "type": "nominal", "legend": null}}},
     {"data": {"name": "ens"}, "transform": [{"filter": "datum.c == 'L' && datum.p == 'B'"}, {"fold": ["R000","R001","R002","R003","R004","R005","R006","R007","R008","R009","R010","R011"], "as": ["m", "y"]}],
      "mark": {"type": "line", "interpolate": "monotone", "clip": true},
      "encoding": {
       "x": {"field": "t", "type": "quantitative", "scale": {"domain": [-3, 48], "nice": false, "zero": false}, "axis": {"values": [-2,0,2,4,6,8,10,12,14,16,18,20,22,24,26,28,30,32,34,36,38,40,42,44,46,48], "labels": false, "title": null, "ticks": true, "tickSize": 4}},
       "y": {"field": "y", "type": "quantitative", "scale": {"domain": [-2.2, 26.3], "nice": false, "zero": false}, "axis": {"values": [0,5,10,15,20,25], "labels": false, "title": "B (nT)", "titleFontSize": 15, "titlePadding": 31, "ticks": true, "tickSize": 4}},
       "color": {"field": "m", "type": "nominal", "scale": {"domain": ["R000","R001","R002","R003","R004","R005","R006","R007","R008","R009","R010","R011"], "range": ["#f3eef6","#e6e2ef","#d0d1e6","#a6bddb","#9e9ac8","#7570b3","#807dba","#0570b0","#3690c0","#5e4fa2","#034e7b","#1c5f8f"]}, "legend": null},
       "strokeWidth": {"field": "m", "type": "nominal", "scale": {"domain": ["R000","R001","R002","R003","R004","R005","R006","R007","R008","R009","R010","R011"], "range": [2.2,2.2,2.2,1.2,2.2,2.2,2.2,2.2,1.2,2.2,2.8,1.2]}, "legend": null}
      }},
     {"data": {"name": "omni"}, "mark": {"type": "line", "color": "black", "strokeWidth": 1.8, "clip": true},
      "encoding": {"x": {"field": "t", "type": "quantitative"}, "y": {"field": "B", "type": "quantitative"}}},
     {"data": {"name": "yt"}, "transform": [{"filter": "datum.p == 'B'"}], "mark": {"type": "text", "align": "right", "baseline": "middle", "dx": -7, "fontSize": 11, "color": "#000"},
      "encoding": {"x": {"datum": -3}, "y": {"field": "val", "type": "quantitative"}, "text": {"field": "val"}}},
     {"data": {"values": [{}]}, "mark": {"type": "rule", "color": "#e8237f", "strokeWidth": 1.2}, "encoding": {"x": {"datum": 0}}},
     {"data": {"values": [{}]}, "mark": {"type": "rule", "color": "black", "strokeWidth": 3}, "encoding": {"x": {"datum": 6}}}
    ]
   },
   {
    "width": 533, "height": 114,
    "layer": [
     {"data": {"name": "arr"}, "transform": [{"filter": "datum.c == 'L'"}], "mark": {"type": "rule", "strokeWidth": 1, "opacity": 0.4},
      "encoding": {"x": {"field": "t", "type": "quantitative"}, "color": {"field": "m", "type": "nominal", "legend": null}}},
     {"data": {"name": "ens"}, "transform": [{"filter": "datum.c == 'L' && datum.p == 'T'"}, {"fold": ["R000","R001","R002","R003","R004","R005","R006","R007","R008","R009","R010","R011"], "as": ["m", "y"]}],
      "mark": {"type": "line", "interpolate": "monotone", "clip": true},
      "encoding": {
       "x": {"field": "t", "type": "quantitative", "scale": {"domain": [-3, 48], "nice": false, "zero": false}, "axis": {"values": [-2,0,2,4,6,8,10,12,14,16,18,20,22,24,26,28,30,32,34,36,38,40,42,44,46,48], "labels": false, "title": "Time (UT)", "titleFontSize": 15, "titlePadding": 32, "ticks": true, "tickSize": 4}},
       "y": {"field": "y", "type": "quantitative", "scale": {"domain": [-9, 211.6], "nice": false, "zero": false}, "axis": {"values": [0,50,100,150,200], "labels": false, "title": "T (kK)", "titleFontSize": 15, "titlePadding": 31, "ticks": true, "tickSize": 4}},
       "color": {"field": "m", "type": "nominal", "scale": {"domain": ["R000","R001","R002","R003","R004","R005","R006","R007","R008","R009","R010","R011"], "range": ["#f3eef6","#e6e2ef","#d0d1e6","#a6bddb","#9e9ac8","#7570b3","#807dba","#0570b0","#3690c0","#5e4fa2","#034e7b","#1c5f8f"]}, "legend": null},
       "strokeWidth": {"field": "m", "type": "nominal", "scale": {"domain": ["R000","R001","R002","R003","R004","R005","R006","R007","R008","R009","R010","R011"], "range": [2.2,2.2,2.2,1.2,2.2,2.2,2.2,2.2,1.2,2.2,2.8,1.2]}, "legend": null}
      }},
     {"data": {"name": "omni"}, "mark": {"type": "line", "color": "black", "strokeWidth": 1.8, "clip": true},
      "encoding": {"x": {"field": "t", "type": "quantitative"}, "y": {"field": "T", "type": "quantitative"}}},
     {"data": {"name": "yt"}, "transform": [{"filter": "datum.p == 'T'"}], "mark": {"type": "text", "align": "right", "baseline": "middle", "dx": -7, "fontSize": 11, "color": "#000"},
      "encoding": {"x": {"datum": -3}, "y": {"field": "val", "type": "quantitative"}, "text": {"field": "val"}}},
     {"data": {"name": "xt"}, "mark": {"type": "text", "align": "center", "baseline": "top", "dy": 7, "fontSize": 12.5, "lineHeight": 14, "color": "#000"},
      "encoding": {"x": {"field": "h", "type": "quantitative"}, "y": {"datum": -9}, "text": {"field": "l"}}},
     {"data": {"values": [{}]}, "mark": {"type": "rule", "color": "#e8237f", "strokeWidth": 1.2}, "encoding": {"x": {"datum": 0}}},
     {"data": {"values": [{}]}, "mark": {"type": "rule", "color": "black", "strokeWidth": 3}, "encoding": {"x": {"datum": 6}}}
    ]
   }
  ]
 },
 {
  "spacing": 0,
  "bounds": "flush",
  "vconcat": [
   {
    "width": 533, "height": 114,
    "title": {"text": "ADAPT-WSA-ENLIL time profiles at Earth (medium resolution) - 2014_08_16", "anchor": "middle", "frame": "group", "offset": 10},
    "layer": [
     {"data": {"name": "arr"}, "transform": [{"filter": "datum.c == 'R'"}], "mark": {"type": "rule", "strokeWidth": 1, "opacity": 0.6},
      "encoding": {"x": {"field": "t", "type": "quantitative"}, "color": {"field": "m", "type": "nominal", "legend": null}}},
     {"data": {"name": "ens"}, "transform": [{"filter": "datum.c == 'R' && datum.p == 'v'"}, {"fold": ["R000","R001","R002","R003","R004","R005","R006","R007","R008","R009","R010","R011"], "as": ["m", "y"]}],
      "mark": {"type": "line", "interpolate": "monotone", "clip": true},
      "encoding": {
       "x": {"field": "t", "type": "quantitative", "scale": {"domain": [-3, 48], "nice": false, "zero": false}, "axis": {"values": [-2,0,2,4,6,8,10,12,14,16,18,20,22,24,26,28,30,32,34,36,38,40,42,44,46,48], "labels": false, "title": null, "ticks": true, "tickSize": 4}},
       "y": {"field": "y", "type": "quantitative", "scale": {"domain": [210, 487], "nice": false, "zero": false}, "axis": {"values": [250,300,350,400,450], "labels": false, "title": "v (km/s)", "titleFontSize": 15, "titlePadding": 31, "ticks": true, "tickSize": 4}},
       "color": {"field": "m", "type": "nominal", "scale": {"domain": ["R000","R001","R002","R003","R004","R005","R006","R007","R008","R009","R010","R011"], "range": ["#f3eef6","#e6e2ef","#d0d1e6","#a6bddb","#9e9ac8","#7570b3","#807dba","#0570b0","#3690c0","#5e4fa2","#034e7b","#1c5f8f"]}, "legend": null},
       "strokeWidth": {"field": "m", "type": "nominal", "scale": {"domain": ["R000","R001","R002","R003","R004","R005","R006","R007","R008","R009","R010","R011"], "range": [2.2,2.2,2.2,1.2,2.2,2.2,2.2,2.2,1.2,2.2,2.8,1.2]}, "legend": null}
      }},
     {"data": {"name": "omni"}, "mark": {"type": "line", "color": "black", "strokeWidth": 1.8, "clip": true},
      "encoding": {"x": {"field": "t", "type": "quantitative"}, "y": {"field": "v", "type": "quantitative"}}},
     {"data": {"name": "yt"}, "transform": [{"filter": "datum.p == 'v'"}], "mark": {"type": "text", "align": "right", "baseline": "middle", "dx": -7, "fontSize": 11, "color": "#000"},
      "encoding": {"x": {"datum": -3}, "y": {"field": "val", "type": "quantitative"}, "text": {"field": "val"}}},
     {"data": {"values": [{}]}, "mark": {"type": "rule", "color": "#e8237f", "strokeWidth": 1.2}, "encoding": {"x": {"datum": 0}}},
     {"data": {"values": [{}]}, "mark": {"type": "rule", "color": "black", "strokeWidth": 3}, "encoding": {"x": {"datum": 6}}},
     {"data": {"values": [{}]}, "mark": {"type": "text", "text": "OMNI", "align": "left", "baseline": "middle", "fontSize": 6, "color": "#333"}, "encoding": {"x": {"datum": -2.4}, "y": {"datum": 471}}},
     {"data": {"values": [{}]}, "mark": {"type": "rule", "color": "black", "strokeWidth": 2}, "encoding": {"x": {"datum": -0.45}, "x2": {"datum": 1.4}, "y": {"datum": 471}}},
     {"data": {"values": [{}]}, "mark": {"type": "text", "text": "ACE Arrival Time (from SWPC)", "align": "left", "baseline": "middle", "fontSize": 8.5, "color": "#000"}, "encoding": {"x": {"datum": 33.1}, "y": {"datum": 476}}},
     {"data": {"values": [{}]}, "mark": {"type": "text", "text": "SWPC Simulated Arrival Time", "align": "left", "baseline": "middle", "fontSize": 8.5, "color": "#e8198b"}, "encoding": {"x": {"datum": 33.1}, "y": {"datum": 454}}},
     {"data": {"values": [{}]}, "mark": {"type": "text", "text": "ADAPT-WSA-ENLIL Time Dependent", "align": "left", "baseline": "middle", "fontSize": 8.5, "color": "#5558b0"}, "encoding": {"x": {"datum": 33.1}, "y": {"datum": 432}}}
    ]
   },
   {
    "width": 533, "height": 114,
    "resolve": {"scale": {"y": "independent"}},
    "layer": [
     {"layer": [
      {"data": {"name": "arr"}, "transform": [{"filter": "datum.c == 'R'"}], "mark": {"type": "rule", "strokeWidth": 1, "opacity": 0.6},
       "encoding": {"x": {"field": "t", "type": "quantitative"}, "color": {"field": "m", "type": "nominal", "legend": null}}},
      {"data": {"name": "ens"}, "transform": [{"filter": "datum.c == 'R' && datum.p == 'N'"}, {"fold": ["R000","R001","R002","R003","R004","R005","R006","R007","R008","R009","R010","R011"], "as": ["m", "y"]}],
       "mark": {"type": "line", "interpolate": "monotone", "clip": true},
       "encoding": {
        "x": {"field": "t", "type": "quantitative", "scale": {"domain": [-3, 48], "nice": false, "zero": false}, "axis": {"values": [-2,0,2,4,6,8,10,12,14,16,18,20,22,24,26,28,30,32,34,36,38,40,42,44,46,48], "labels": false, "title": null, "ticks": true, "tickSize": 4}},
        "y": {"field": "y", "type": "quantitative", "scale": {"domain": [-1.6, 37], "nice": false, "zero": false}, "axis": {"values": [0,5,10,15,20,25,30,35], "labels": false, "title": "N (cm⁻³)", "titleFontSize": 15, "titlePadding": 31, "ticks": true, "tickSize": 4}},
        "color": {"field": "m", "type": "nominal", "scale": {"domain": ["R000","R001","R002","R003","R004","R005","R006","R007","R008","R009","R010","R011"], "range": ["#f3eef6","#e6e2ef","#d0d1e6","#a6bddb","#9e9ac8","#7570b3","#807dba","#0570b0","#3690c0","#5e4fa2","#034e7b","#1c5f8f"]}, "legend": null},
        "strokeWidth": {"field": "m", "type": "nominal", "scale": {"domain": ["R000","R001","R002","R003","R004","R005","R006","R007","R008","R009","R010","R011"], "range": [2.2,2.2,2.2,1.2,2.2,2.2,2.2,2.2,1.2,2.2,2.8,1.2]}, "legend": null}
       }},
      {"data": {"name": "omni"}, "mark": {"type": "line", "color": "black", "strokeWidth": 1.8, "clip": true},
       "encoding": {"x": {"field": "t", "type": "quantitative"}, "y": {"field": "N", "type": "quantitative"}}},
      {"data": {"name": "yt"}, "transform": [{"filter": "datum.p == 'N'"}], "mark": {"type": "text", "align": "right", "baseline": "middle", "dx": -7, "fontSize": 11, "color": "#000"},
       "encoding": {"x": {"datum": -3}, "y": {"field": "val", "type": "quantitative"}, "text": {"field": "val"}}},
      {"data": {"values": [{}]}, "mark": {"type": "rule", "color": "#e8237f", "strokeWidth": 1.2}, "encoding": {"x": {"datum": 0}}},
      {"data": {"values": [{}]}, "mark": {"type": "rule", "color": "black", "strokeWidth": 3}, "encoding": {"x": {"datum": 6}}}
     ]},
     {"data": {"name": "mem"}, "layer": [
      {"mark": {"type": "text", "align": "left", "baseline": "middle", "fontSize": 5.5, "color": "#444"},
       "encoding": {"x": {"datum": -2.25}, "y": {"field": "m", "type": "ordinal", "scale": {"type": "point", "padding": 0, "range": [5.8, 75.8]}, "axis": null}, "text": {"field": "m"}}},
      {"mark": {"type": "rule", "strokeWidth": 3},
       "encoding": {"x": {"datum": -0.45}, "x2": {"datum": 1.4}, "y": {"field": "m", "type": "ordinal", "axis": null}, "color": {"field": "m", "type": "nominal", "legend": null}}}
     ]}
    ]
   },
   {
    "width": 533, "height": 113,
    "layer": [
     {"data": {"name": "arr"}, "transform": [{"filter": "datum.c == 'R'"}], "mark": {"type": "rule", "strokeWidth": 1, "opacity": 0.6},
      "encoding": {"x": {"field": "t", "type": "quantitative"}, "color": {"field": "m", "type": "nominal", "legend": null}}},
     {"data": {"name": "ens"}, "transform": [{"filter": "datum.c == 'R' && datum.p == 'B'"}, {"fold": ["R000","R001","R002","R003","R004","R005","R006","R007","R008","R009","R010","R011"], "as": ["m", "y"]}],
      "mark": {"type": "line", "interpolate": "monotone", "clip": true},
      "encoding": {
       "x": {"field": "t", "type": "quantitative", "scale": {"domain": [-3, 48], "nice": false, "zero": false}, "axis": {"values": [-2,0,2,4,6,8,10,12,14,16,18,20,22,24,26,28,30,32,34,36,38,40,42,44,46,48], "labels": false, "title": null, "ticks": true, "tickSize": 4}},
       "y": {"field": "y", "type": "quantitative", "scale": {"domain": [-2.2, 26.3], "nice": false, "zero": false}, "axis": {"values": [0,5,10,15,20,25], "labels": false, "title": "B (nT)", "titleFontSize": 15, "titlePadding": 31, "ticks": true, "tickSize": 4}},
       "color": {"field": "m", "type": "nominal", "scale": {"domain": ["R000","R001","R002","R003","R004","R005","R006","R007","R008","R009","R010","R011"], "range": ["#f3eef6","#e6e2ef","#d0d1e6","#a6bddb","#9e9ac8","#7570b3","#807dba","#0570b0","#3690c0","#5e4fa2","#034e7b","#1c5f8f"]}, "legend": null},
       "strokeWidth": {"field": "m", "type": "nominal", "scale": {"domain": ["R000","R001","R002","R003","R004","R005","R006","R007","R008","R009","R010","R011"], "range": [2.2,2.2,2.2,1.2,2.2,2.2,2.2,2.2,1.2,2.2,2.8,1.2]}, "legend": null}
      }},
     {"data": {"name": "omni"}, "mark": {"type": "line", "color": "black", "strokeWidth": 1.8, "clip": true},
      "encoding": {"x": {"field": "t", "type": "quantitative"}, "y": {"field": "B", "type": "quantitative"}}},
     {"data": {"name": "yt"}, "transform": [{"filter": "datum.p == 'B'"}], "mark": {"type": "text", "align": "right", "baseline": "middle", "dx": -7, "fontSize": 11, "color": "#000"},
      "encoding": {"x": {"datum": -3}, "y": {"field": "val", "type": "quantitative"}, "text": {"field": "val"}}},
     {"data": {"values": [{}]}, "mark": {"type": "rule", "color": "#e8237f", "strokeWidth": 1.2}, "encoding": {"x": {"datum": 0}}},
     {"data": {"values": [{}]}, "mark": {"type": "rule", "color": "black", "strokeWidth": 3}, "encoding": {"x": {"datum": 6}}}
    ]
   },
   {
    "width": 533, "height": 114,
    "layer": [
     {"data": {"name": "arr"}, "transform": [{"filter": "datum.c == 'R'"}], "mark": {"type": "rule", "strokeWidth": 1, "opacity": 0.6},
      "encoding": {"x": {"field": "t", "type": "quantitative"}, "color": {"field": "m", "type": "nominal", "legend": null}}},
     {"data": {"name": "ens"}, "transform": [{"filter": "datum.c == 'R' && datum.p == 'T'"}, {"fold": ["R000","R001","R002","R003","R004","R005","R006","R007","R008","R009","R010","R011"], "as": ["m", "y"]}],
      "mark": {"type": "line", "interpolate": "monotone", "clip": true},
      "encoding": {
       "x": {"field": "t", "type": "quantitative", "scale": {"domain": [-3, 48], "nice": false, "zero": false}, "axis": {"values": [-2,0,2,4,6,8,10,12,14,16,18,20,22,24,26,28,30,32,34,36,38,40,42,44,46,48], "labels": false, "title": "Time (UT)", "titleFontSize": 15, "titlePadding": 32, "ticks": true, "tickSize": 4}},
       "y": {"field": "y", "type": "quantitative", "scale": {"domain": [-9, 211.6], "nice": false, "zero": false}, "axis": {"values": [0,50,100,150,200], "labels": false, "title": "T (kK)", "titleFontSize": 15, "titlePadding": 31, "ticks": true, "tickSize": 4}},
       "color": {"field": "m", "type": "nominal", "scale": {"domain": ["R000","R001","R002","R003","R004","R005","R006","R007","R008","R009","R010","R011"], "range": ["#f3eef6","#e6e2ef","#d0d1e6","#a6bddb","#9e9ac8","#7570b3","#807dba","#0570b0","#3690c0","#5e4fa2","#034e7b","#1c5f8f"]}, "legend": null},
       "strokeWidth": {"field": "m", "type": "nominal", "scale": {"domain": ["R000","R001","R002","R003","R004","R005","R006","R007","R008","R009","R010","R011"], "range": [2.2,2.2,2.2,1.2,2.2,2.2,2.2,2.2,1.2,2.2,2.8,1.2]}, "legend": null}
      }},
     {"data": {"name": "omni"}, "mark": {"type": "line", "color": "black", "strokeWidth": 1.8, "clip": true},
      "encoding": {"x": {"field": "t", "type": "quantitative"}, "y": {"field": "T", "type": "quantitative"}}},
     {"data": {"name": "yt"}, "transform": [{"filter": "datum.p == 'T'"}], "mark": {"type": "text", "align": "right", "baseline": "middle", "dx": -7, "fontSize": 11, "color": "#000"},
      "encoding": {"x": {"datum": -3}, "y": {"field": "val", "type": "quantitative"}, "text": {"field": "val"}}},
     {"data": {"name": "xt"}, "mark": {"type": "text", "align": "center", "baseline": "top", "dy": 7, "fontSize": 12.5, "lineHeight": 14, "color": "#000"},
      "encoding": {"x": {"field": "h", "type": "quantitative"}, "y": {"datum": -9}, "text": {"field": "l"}}},
     {"data": {"values": [{}]}, "mark": {"type": "rule", "color": "#e8237f", "strokeWidth": 1.2}, "encoding": {"x": {"datum": 0}}},
     {"data": {"values": [{}]}, "mark": {"type": "rule", "color": "black", "strokeWidth": 3}, "encoding": {"x": {"datum": 6}}}
    ]
   }
  ]
 }
]
}
